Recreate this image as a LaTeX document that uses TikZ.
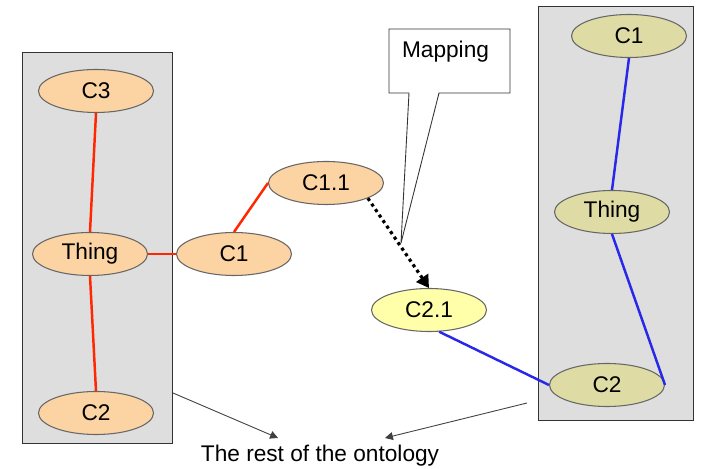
\documentclass[tikz,border=0pt]{standalone}
\usepackage{fontspec}
\setmainfont{Liberation Sans}
\usetikzlibrary{arrows.meta,shapes.geometric}
\definecolor{peach}{RGB}{252,211,162}
\definecolor{paleyellow}{RGB}{255,255,170}
\definecolor{olive}{RGB}{222,220,164}
\definecolor{panel}{RGB}{222,222,222}
\definecolor{redline}{RGB}{255,38,0}
\definecolor{blueline}{RGB}{40,40,235}
\begin{document}
\begin{tikzpicture}[font=\fontsize{12.9}{15}\selectfont,
  concept/.style={ellipse,draw=black!60,line width=0.6pt,minimum width=2.3cm,minimum height=0.86cm,inner sep=0pt},
  ontbox/.style={rectangle,draw=black!80,fill=panel,line width=0.6pt,inner sep=0pt},
  redlink/.style={draw=redline,line width=1.4pt},
  bluelink/.style={draw=blueline,line width=1.4pt},
  restarrow/.style={draw=black!75,line width=0.5pt,-{Triangle[length=4.5pt,width=4.5pt]}}]
\useasboundingbox (0,0) rectangle (14.02,9.38);
\node[ontbox,minimum width=3cm,minimum height=7.82cm,anchor=south west] (leftbox) at (0.44,0.5) {};
\node[ontbox,minimum width=3.1cm,minimum height=8.28cm,anchor=south west] (rightbox) at (10.76,0.96) {};
\node[concept,fill=peach] (c3) at (1.92,7.56) {C3};
\node[concept,fill=peach] (thingl) at (1.80,4.30) {Thing};
\node[concept,fill=peach] (c2l) at (1.92,1.12) {C2};
\node[concept,fill=peach] (c1) at (4.68,4.30) {C1};
\node[concept,fill=peach] (c11) at (6.52,5.72) {C1.1};
\node[concept,fill=paleyellow] (c21) at (8.58,3.18) {C2.1};
\node[concept,fill=olive] (c1r) at (12.58,8.66) {C1};
\node[concept,fill=olive] (thingr) at (12.24,5.14) {Thing};
\node[concept,fill=olive] (c2r) at (12.14,1.68) {C2};
\draw[redlink] (c3.south) -- (thingl.north);
\draw[redlink] (thingl.south) -- (c2l.north);
\draw[redlink] (thingl.east) -- (c1.west);
\draw[redlink] (c1.north) -- (c11.west);
\draw[bluelink] (c1r.south) -- (thingr.north);
\draw[bluelink] (thingr.south) -- (c2r.east);
\draw[bluelink] (c21.-65) -- (c2r.west);
\draw[line width=1.8pt,dash pattern=on 1.8pt off 2pt,-{Triangle[length=7pt,width=8pt]}] (c11.-20) -- (c21.north);
\coordinate (tip) at (8.02,4.52);
\draw[fill=white,draw=black!80,line width=0.5pt] (7.78,8.80) -- (10.20,8.80) -- (10.20,7.52) -- (8.78,7.52) -- (tip) -- (8.18,7.52) -- (7.78,7.52) -- cycle;
\node (mapping) at (8.91,8.34) {Mapping};
\node (rest) at (6.40,0.26) {The rest of the ontology};
\coordinate (leftfrom) at (3.46,1.52);
\coordinate (rightfrom) at (10.54,1.32);
\draw[restarrow] (leftfrom) -- (5.56,0.62);
\draw[restarrow] (rightfrom) -- (7.70,0.62);
\end{tikzpicture}
\end{document}
